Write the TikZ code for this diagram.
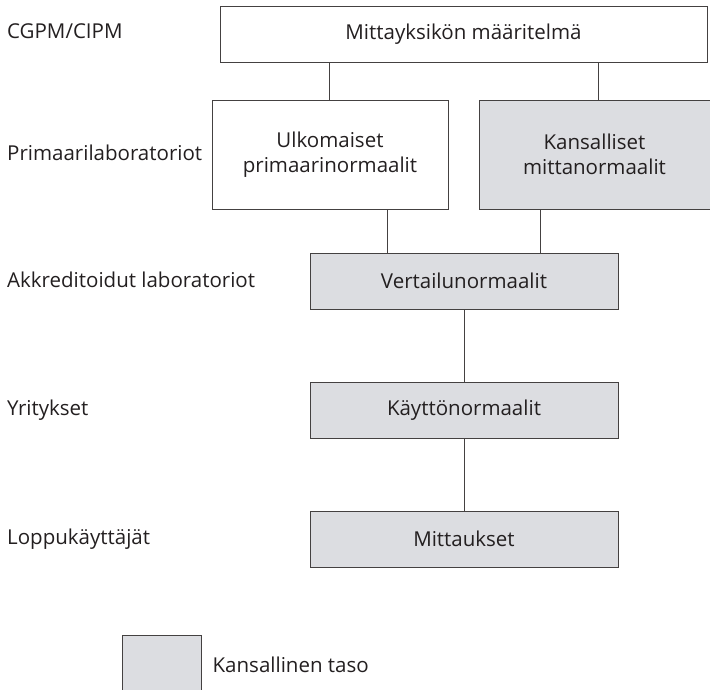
\documentclass[tikz,border=0pt]{standalone}
\usepackage{fontspec}
\setmainfont{Open Sans}
\usepackage{xcolor}
\definecolor{natfill}{HTML}{DCDDE1}
\definecolor{ink}{HTML}{231F20}
\usepackage{tikz}
\usetikzlibrary{positioning,calc}

\begin{document}
\begin{tikzpicture}[x=1pt, y=-1pt,
    box/.style={draw=ink!85, line width=0.9pt, minimum width=308pt,
                minimum height=56pt, align=center, text=ink, inner sep=2pt,
                font=\fontsize{20.5}{25}\selectfont},
    natbox/.style={box, fill=natfill},
    lvl/.style={anchor=base west, text=ink, inner sep=0pt,
                font=\fontsize{20.5}{25}\selectfont},
    link/.style={draw=ink!85, line width=0.9pt}]
  \useasboundingbox (0,0) rectangle (710,690);

  \node[box, minimum width=487pt]                     (def)  at (463.5, 34)   {Mittayksikön määritelmä};
  \node[box, minimum width=236pt, minimum height=109pt] (ulk)  at (330, 154.5)  {Ulkomaiset\\primaarinormaalit};
  \node[natbox, minimum width=231pt, minimum height=109pt] (kans) at (594.5, 154.5) {Kansalliset\\mittanormaalit};
  \node[natbox] (vert) at (464, 281) {Vertailunormaalit};
  \node[natbox] (kayt) at (464, 410) {Käyttönormaalit};
  \node[natbox] (mitt) at (464, 539) {Mittaukset};

  \draw[link] ([xshift=-134.5pt]def.south) -- ([xshift=-134.5pt]def.south |- ulk.north);
  \draw[link] ([xshift=134.5pt]def.south)  -- ([xshift=134.5pt]def.south |- kans.north);
  \draw[link] ([xshift=-77pt]vert.north)   -- ([xshift=-77pt]vert.north |- ulk.south);
  \draw[link] ([xshift=76pt]vert.north)    -- ([xshift=76pt]vert.north |- kans.south);
  \draw[link] (vert) -- (kayt);
  \draw[link] (kayt) -- (mitt);

  \node[lvl] (cgpm)  at (7, 39)  {CGPM/CIPM};
  \node[lvl] (prim)  at (7, 161) {Primaarilaboratoriot};
  \node[lvl] (akkr)  at (7, 287) {Akkreditoidut laboratoriot};
  \node[lvl] (yrit)  at (7, 415) {Yritykset};
  \node[lvl] (loppu) at (7, 544) {Loppukäyttäjät};

  % legend
  \node[natbox, minimum width=79pt, minimum height=60pt] (leg) at (161.5, 665) {};
  \node[lvl, right=11pt of leg] (legtxt) {Kansallinen taso};
\end{tikzpicture}
\end{document}
